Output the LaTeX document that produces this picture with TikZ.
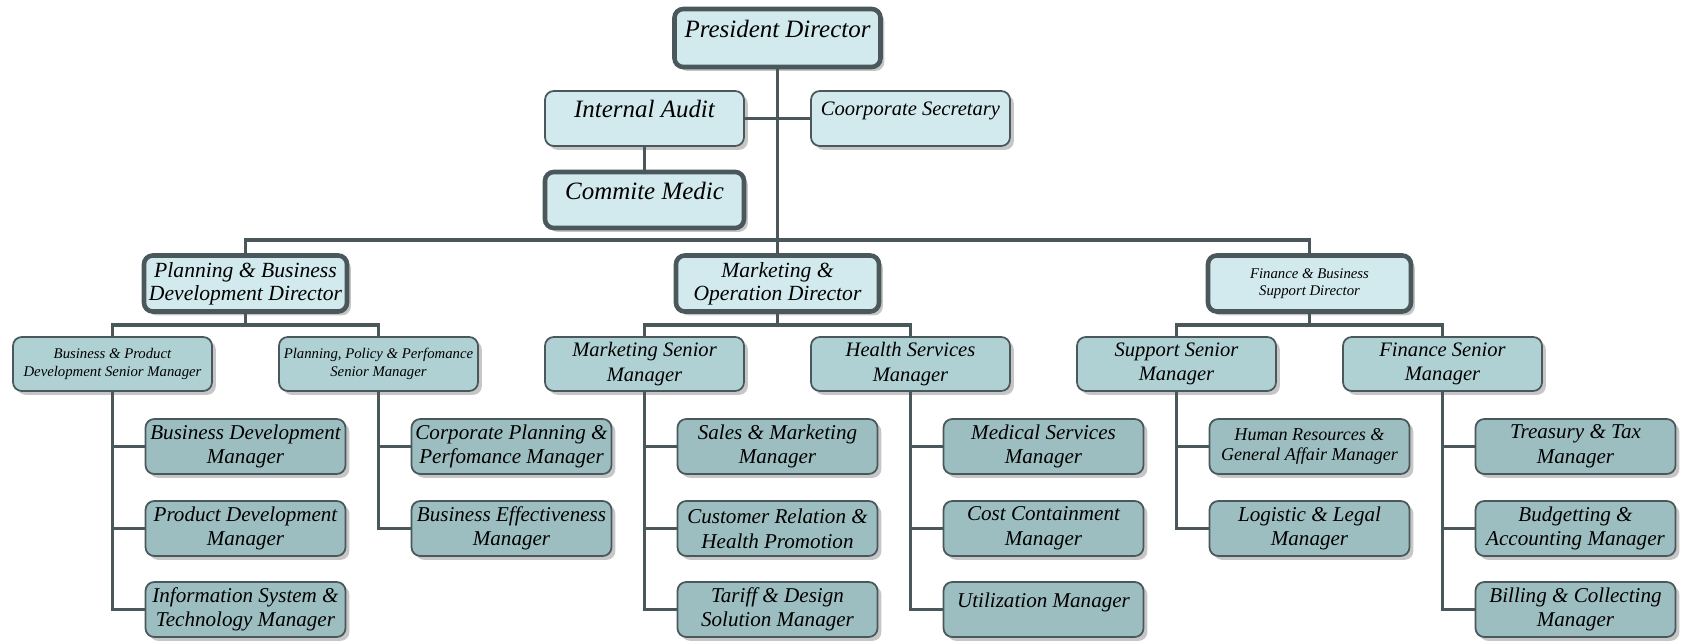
\documentclass[tikz,border=0pt]{standalone}
\usepackage{fontspec}
\setmainfont{Liberation Serif}
\usetikzlibrary{shadows}

\definecolor{lighttop}{HTML}{D2EAEE}
\definecolor{midteal}{HTML}{B0D1D4}
\definecolor{lowteal}{HTML}{9DBEC0}
\definecolor{framegray}{HTML}{4A585C}

\begin{document}
\begin{tikzpicture}[
    unit/.style={draw=framegray, rounded corners=5pt, align=center, inner sep=1pt,
        drop shadow={shadow xshift=2.2pt, shadow yshift=-2.2pt, fill=black!28, opacity=0.8}},
    head/.style={unit, fill=lighttop, line width=2.6pt, minimum width=4.06cm, minimum height=1.12cm},
    staff/.style={unit, fill=lighttop, line width=1pt, minimum width=3.98cm, minimum height=1.1cm},
    senior/.style={unit, fill=midteal, line width=1pt, minimum width=3.98cm, minimum height=1.08cm},
    mgr/.style={unit, fill=lowteal, line width=1pt, minimum width=4cm, minimum height=1.1cm},
    upper/.style={text depth=0.38cm},
    fbig/.style={font=\itshape\fontsize{14.2}{16}\selectfont},
    fdir/.style={font=\itshape\fontsize{12.3}{13.2}\selectfont},
    fsen/.style={font=\itshape\fontsize{11.7}{14}\selectfont},
    fmgr/.style={font=\itshape\fontsize{12}{14}\selectfont},
    fmid/.style={font=\itshape\fontsize{10.3}{11.7}\selectfont},
    fsmall/.style={font=\itshape\fontsize{8.4}{10}\selectfont},
    link/.style={draw=framegray, line width=2.2pt}
]
    \useasboundingbox (0,0) rectangle (33.7,12.86);

    % Board level
    \node[head, fbig, upper, minimum width=4.12cm, minimum height=1.16cm] (pres) at (15.55,12.1) {President Director};
    \node[staff, fbig, upper] (audit) at (12.89,10.49) {Internal Audit};
    \node[staff, fsen, upper] (secr) at (18.21,10.49) {Coorporate Secretary};
    \node[head, fbig, upper, minimum width=3.98cm] (medic) at (12.89,8.86) {Commite Medic};

    % Directors
    \node[head, fdir] (plan) at (4.91,7.19) {Planning \& Business\\Development Director};
    \node[head, fdir] (mkt) at (15.55,7.19) {Marketing \&\\Operation Director};
    \node[head, fsmall] (fin) at (26.19,7.19) {Finance \& Business\\Support Director};

    % Senior managers
    \node[senior, fsmall] (bpsm) at (2.25,5.58) {Business \& Product\\Development Senior Manager};
    \node[senior, fsmall] (ppsm) at (7.57,5.58) {Planning, Policy \& Perfomance\\Senior Manager};
    \node[senior, fsen] (mksm) at (12.89,5.58) {Marketing Senior\\Manager};
    \node[senior, fsen] (hsm) at (18.21,5.58) {Health Services\\Manager};
    \node[senior, fsen] (susm) at (23.53,5.58) {Support Senior\\Manager};
    \node[senior, fsen] (fism) at (28.85,5.58) {Finance Senior\\Manager};

    % Managers
    \node[mgr, fmgr] (bdm) at (4.91,3.93) {Business Development\\Manager};
    \node[mgr, fmgr] (pdm) at (4.91,2.29) {Product Development\\Manager};
    \node[mgr, fmgr] (istm) at (4.91,0.67) {Information System \&\\Technology Manager};

    \node[mgr, fmgr] (cpm) at (10.23,3.93) {Corporate Planning \&\\Perfomance Manager};
    \node[mgr, fmgr] (bem) at (10.23,2.29) {Business Effectiveness\\Manager};

    \node[mgr, fmgr] (smm) at (15.55,3.93) {Sales \& Marketing\\Manager};
    \node[mgr, fmgr] (crm) at (15.55,2.29) {Customer Relation \&\\Health Promotion};
    \node[mgr, fmgr] (tdm) at (15.55,0.67) {Tariff \& Design\\Solution Manager};

    \node[mgr, fmgr] (msm) at (20.87,3.93) {Medical Services\\Manager};
    \node[mgr, fmgr] (ccm) at (20.87,2.29) {Cost Containment\\Manager};
    \node[mgr, fmgr, upper] (um) at (20.87,0.67) {Utilization Manager};

    \node[mgr, fmid] (hrm) at (26.19,3.93) {Human Resources \&\\General Affair Manager};
    \node[mgr, fmgr] (llm) at (26.19,2.29) {Logistic \& Legal\\Manager};

    \node[mgr, fmgr] (ttm) at (31.51,3.93) {Treasury \& Tax\\Manager};
    \node[mgr, fmgr] (bam) at (31.51,2.29) {Budgetting \&\\Accounting Manager};
    \node[mgr, fmgr] (bcm) at (31.51,0.67) {Billing \& Collecting\\Manager};

    % Branch points
    \coordinate (bus) at (15.55,8.06);
    \coordinate (planfork) at (4.91,6.36);
    \coordinate (mktfork) at (15.55,6.36);
    \coordinate (finfork) at (26.19,6.36);

    % Connectors from the top
    \draw[link] (pres.south) -- (mkt.north);
    \draw[link] (audit.east) -- (secr.west);
    \draw[link] (audit.south) -- (medic.north);
    \draw[link] (plan.north) |- (bus) -| (fin.north);

    % Directors to senior managers
    \draw[link] (plan.south) -- (planfork);
    \draw[link] (bpsm.north) |- (planfork) -| (ppsm.north);
    \draw[link] (mkt.south) -- (mktfork);
    \draw[link] (mksm.north) |- (mktfork) -| (hsm.north);
    \draw[link] (fin.south) -- (finfork);
    \draw[link] (susm.north) |- (finfork) -| (fism.north);

    % Senior managers to managers
    \draw[link] (bpsm.south) |- (bdm.west);
    \draw[link] (bpsm.south) |- (pdm.west);
    \draw[link] (bpsm.south) |- (istm.west);
    \draw[link] (ppsm.south) |- (cpm.west);
    \draw[link] (ppsm.south) |- (bem.west);
    \draw[link] (mksm.south) |- (smm.west);
    \draw[link] (mksm.south) |- (crm.west);
    \draw[link] (mksm.south) |- (tdm.west);
    \draw[link] (hsm.south) |- (msm.west);
    \draw[link] (hsm.south) |- (ccm.west);
    \draw[link] (hsm.south) |- (um.west);
    \draw[link] (susm.south) |- (hrm.west);
    \draw[link] (susm.south) |- (llm.west);
    \draw[link] (fism.south) |- (ttm.west);
    \draw[link] (fism.south) |- (bam.west);
    \draw[link] (fism.south) |- (bcm.west);

\end{tikzpicture}
\end{document}
